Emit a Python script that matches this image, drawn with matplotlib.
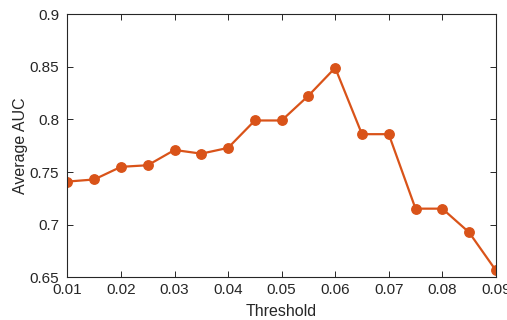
import matplotlib
matplotlib.use('Agg')
import matplotlib.pyplot as plt

# threshold vs average AUC
thresholds = [0.01, 0.015, 0.02, 0.025, 0.03, 0.035, 0.04, 0.045, 0.05,
              0.055, 0.06, 0.065, 0.07, 0.075, 0.08, 0.085, 0.09]
avg_auc = [0.741, 0.743, 0.755, 0.7565, 0.771, 0.7675, 0.773, 0.799, 0.799,
           0.8225, 0.849, 0.786, 0.786, 0.7153, 0.7153, 0.6928, 0.6567]

x_ticks = [0.01, 0.02, 0.03, 0.04, 0.05, 0.06, 0.07, 0.08, 0.09]
x_labels = ['0.01', '0.02', '0.03', '0.04', '0.05', '0.06', '0.07', '0.08', '0.09']
y_ticks = [0.65, 0.7, 0.75, 0.8, 0.85, 0.9]
y_labels = ['0.65', '0.7', '0.75', '0.8', '0.85', '0.9']

plt.rcParams['font.family'] = ['Liberation Sans', 'DejaVu Sans']

fig = plt.figure(figsize=(5.07, 3.2), dpi=100)
ax = fig.add_axes([0.133, 0.133, 0.845, 0.823])

ax.plot(thresholds, avg_auc, color='#D95319', linewidth=1.6,
        marker='o', markersize=6.8)

ax.set_xlim(0.01, 0.09)
ax.set_ylim(0.65, 0.9)
ax.set_xticks(x_ticks)
ax.set_xticklabels(x_labels)
ax.set_yticks(y_ticks)
ax.set_yticklabels(y_labels)
ax.tick_params(direction='in', length=4, width=0.7, colors='#262626',
               labelsize=11, top=True, right=True)
ax.tick_params(axis='x', pad=4)
ax.tick_params(axis='y', pad=6)
for s in ax.spines.values():
    s.set_linewidth(0.8)
    s.set_color('#262626')

ax.set_xlabel('Threshold', fontsize=11.5, color='#262626', labelpad=5)
ax.set_ylabel('Average AUC', fontsize=11.5, color='#262626', labelpad=1)

fig.savefig('out.png', dpi=100)
